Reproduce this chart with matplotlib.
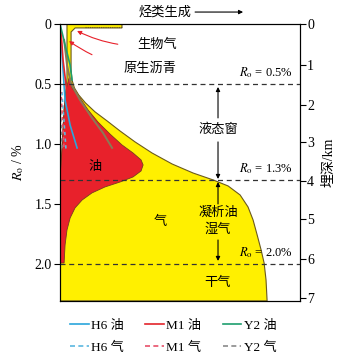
import numpy as np
import matplotlib
matplotlib.use('Agg')
import matplotlib.pyplot as plt
from matplotlib.lines import Line2D

plt.rcParams['font.family'] = ['Liberation Serif', 'Noto Sans CJK SC']
plt.rcParams['mathtext.fontset'] = 'stix'

# outer gas boundary (x = relative generation, Ro %), top -> bottom
gas_x = [0.029, 0.258, 0.258, 0.063, 0.046, 0.046, 0.050, 0.060, 0.078, 0.106, 0.146,
         0.196, 0.250, 0.3125, 0.383, 0.467, 0.554, 0.638, 0.700, 0.750, 0.783, 0.804,
         0.821, 0.8375, 0.850, 0.858, 0.8625, 0.0, 0.0, 0.004, 0.008, 0.0125, 0.017,
         0.025, 0.029]
gas_ro = [0.0, 0.0, 0.033, 0.033, 0.067, 0.383, 0.467, 0.533, 0.592, 0.658, 0.733,
          0.808, 0.892, 0.983, 1.075, 1.167, 1.242, 1.300, 1.350, 1.425, 1.525, 1.633,
          1.758, 1.883, 1.992, 2.133, 2.308, 2.308, 1.258, 1.175, 1.050, 0.883, 0.717,
          0.550, 0.450]

# oil window
oil_x = [0.0375, 0.025, 0.017, 0.0125, 0.008, 0.004, 0.0, 0.0, 0.017, 0.021, 0.029,
         0.042, 0.0625, 0.092, 0.133, 0.1875, 0.250, 0.304, 0.3375, 0.346, 0.3375,
         0.304, 0.258, 0.208, 0.158, 0.117, 0.083, 0.050, 0.042]
oil_ro = [0.450, 0.550, 0.717, 0.883, 1.050, 1.175, 1.258, 1.992, 1.992, 1.842, 1.717,
          1.617, 1.533, 1.467, 1.408, 1.358, 1.317, 1.275, 1.225, 1.175, 1.133,
          1.075, 1.008, 0.917, 0.817, 0.717, 0.617, 0.533, 0.450]

# sample curves
olive_x = [0.017, 0.029, 0.046, 0.083, 0.133, 0.179, 0.217]
olive_ro = [0.133, 0.342, 0.500, 0.633, 0.783, 0.908, 1.033]
h6_oil_x = [0.004, 0.0125, 0.021, 0.042, 0.071]
h6_oil_ro = [0.133, 0.383, 0.633, 0.842, 1.033]
m1_oil_x = [0.004, 0.0125, 0.025, 0.033]
m1_oil_ro = [0.05, 0.30, 0.508, 0.633]
y2_oil_x = [0.0, 0.021, 0.042, 0.050]
y2_oil_ro = [0.0, 0.175, 0.342, 0.467]
h6_gas_x = [0.008, 0.025]
h6_gas_ro = [0.567, 1.05]
m1_gas_x = [0.004, 0.017]
m1_gas_ro = [0.567, 1.05]
y2_gas_x = [0.0, 0.008]
y2_gas_ro = [0.592, 1.05]

ro_ticks = [0, 0.5, 1.0, 1.5, 2.0]
ro_labels = ['0', '0.5', '1.0', '1.5', '2.0']
depth_km = [0, 1, 2, 3, 4, 5, 6, 7]
depth_ro = [0, 0.342, 0.675, 0.983, 1.308, 1.625, 1.958, 2.283]
ro_lines = [0.5, 1.3, 2.0]
ro_texts = ['0.5%', '1.3%', '2.0%']

yellow = '#FFF000'
red = '#E8212B'
edge = '#6b5a1e'

fig = plt.figure(figsize=(3.43, 3.63), dpi=100)
ax = fig.add_axes([0.175, 0.171, 0.70, 0.763])

ax.fill(gas_x, gas_ro, facecolor=yellow, edgecolor=edge, lw=0.8, zorder=1)
ax.fill(oil_x, oil_ro, facecolor=red, edgecolor='#7a3a20', lw=0.6, zorder=2)
ax.plot([0.104, 0.258], [0.025, 0.025], ls=(0, (1, 1)), color=edge, lw=0.8, zorder=3)

ax.plot(olive_x, olive_ro, color='#8a7a55', lw=1.4, zorder=4)
ax.plot(h6_oil_x, h6_oil_ro, color='#2aa6dc', lw=1.2, zorder=4)
ax.plot(m1_oil_x, m1_oil_ro, color='#e3242b', lw=1.2, zorder=4)
ax.plot(y2_oil_x, y2_oil_ro, color='#1e9e6e', lw=1.2, zorder=4)
ax.plot(h6_gas_x, h6_gas_ro, color='#5bb8e0', lw=1.2, ls=(0, (2, 2)), zorder=4)
ax.plot(m1_gas_x, m1_gas_ro, color='#e8506a', lw=1.2, ls=(1, (2, 2)), zorder=4)
ax.plot(y2_gas_x, y2_gas_ro, color='#8a8a8a', lw=1.2, ls=(2, (2, 2)), zorder=4)

for r, t in zip(ro_lines, ro_texts):
    ax.axhline(r, color='#333333', ls=(0, (4, 3)), lw=0.9, zorder=5)
    ax.text(0.967, r - 0.035, r'$R_{\rm o}$' + ' = ' + t, ha='right', va='bottom', fontsize=9, zorder=6)

ax.set_xlim(0, 1)
ax.set_ylim(2.308, 0)
ax.set_xticks([])
ax.set_yticks(ro_ticks)
ax.set_yticklabels(ro_labels, fontsize=10)
ax.tick_params(axis='y', direction='out', length=4, width=0.8, pad=2)
ax.set_ylabel(r'$R_{\rm o}$ / %', fontsize=10, labelpad=6)

ax2 = ax.twinx()
ax2.set_ylim(2.308, 0)
ax2.set_yticks(depth_ro)
ax2.set_yticklabels([str(d) for d in depth_km], fontsize=10)
ax2.tick_params(axis='y', direction='out', length=4, width=0.8, pad=1)
ax2.set_ylabel('埋深/km', fontsize=10, labelpad=6)

# annotations
arr = dict(arrowstyle='-|>', color='#e8212b', lw=0.8, mutation_scale=6)
ax.annotate('生物气', xy=(0.071, 0.058), xytext=(0.404, 0.175), fontsize=9.5, ha='center', va='center',
            arrowprops=dict(arr, connectionstyle='arc3,rad=-0.15', shrinkA=12, shrinkB=0))
ax.annotate('原生沥青', xy=(0.0375, 0.142), xytext=(0.375, 0.375), fontsize=9.5, ha='center', va='center',
            arrowprops=dict(arr, connectionstyle='arc3,rad=-0.15', shrinkA=22, shrinkB=0))

blk = dict(arrowstyle='-|>', color='black', lw=0.8, mutation_scale=6, shrinkA=0, shrinkB=0)
ax.text(0.658, 0.883, '液态窗', fontsize=9.5, ha='center', va='center')
ax.annotate('', xy=(0.658, 0.525), xytext=(0.658, 0.783), arrowprops=blk)
ax.annotate('', xy=(0.658, 1.292), xytext=(0.658, 0.983), arrowprops=blk)
ax.text(0.658, 1.575, '凝析油', fontsize=9.5, ha='center', va='center')
ax.text(0.658, 1.717, '湿气', fontsize=9.5, ha='center', va='center')
ax.annotate('', xy=(0.658, 1.317), xytext=(0.658, 1.50), arrowprops=blk)
ax.annotate('', xy=(0.658, 1.975), xytext=(0.658, 1.80), arrowprops=blk)
ax.text(0.146, 1.19, '油', fontsize=9.5, ha='center', va='center')
ax.text(0.417, 1.65, '气', fontsize=9.5, ha='center', va='center')
ax.text(0.658, 2.158, '干气', fontsize=9.5, ha='center', va='center')

ax.text(0.4375, 1.043, '烃类生成', fontsize=9.5, ha='center', va='center', transform=ax.transAxes)
ax.annotate('', xy=(0.7625, 1.043), xytext=(0.5625, 1.043), xycoords='axes fraction',
            arrowprops=dict(arrowstyle='-|>', color='black', lw=0.8, mutation_scale=6, shrinkA=0, shrinkB=0))

handles = [Line2D([], [], color='#2aa6dc', lw=1.2),
           Line2D([], [], color='#5bb8e0', lw=1.2, ls=(0, (3, 2))),
           Line2D([], [], color='#e3242b', lw=1.2),
           Line2D([], [], color='#e8506a', lw=1.2, ls=(0, (3, 2))),
           Line2D([], [], color='#1e9e6e', lw=1.2),
           Line2D([], [], color='#8a8a8a', lw=1.2, ls=(0, (3, 2)))]
labels = ['H6 油', 'H6 气', 'M1 油', 'M1 气', 'Y2 油', 'Y2 气']
fig.legend(handles, labels, ncol=3, loc='center', bbox_to_anchor=(0.505, 0.072), frameon=False,
           fontsize=9.5, handlelength=1.4, handletextpad=0.2, columnspacing=1.6, labelspacing=0.75)

fig.savefig('out.png', dpi=100)
